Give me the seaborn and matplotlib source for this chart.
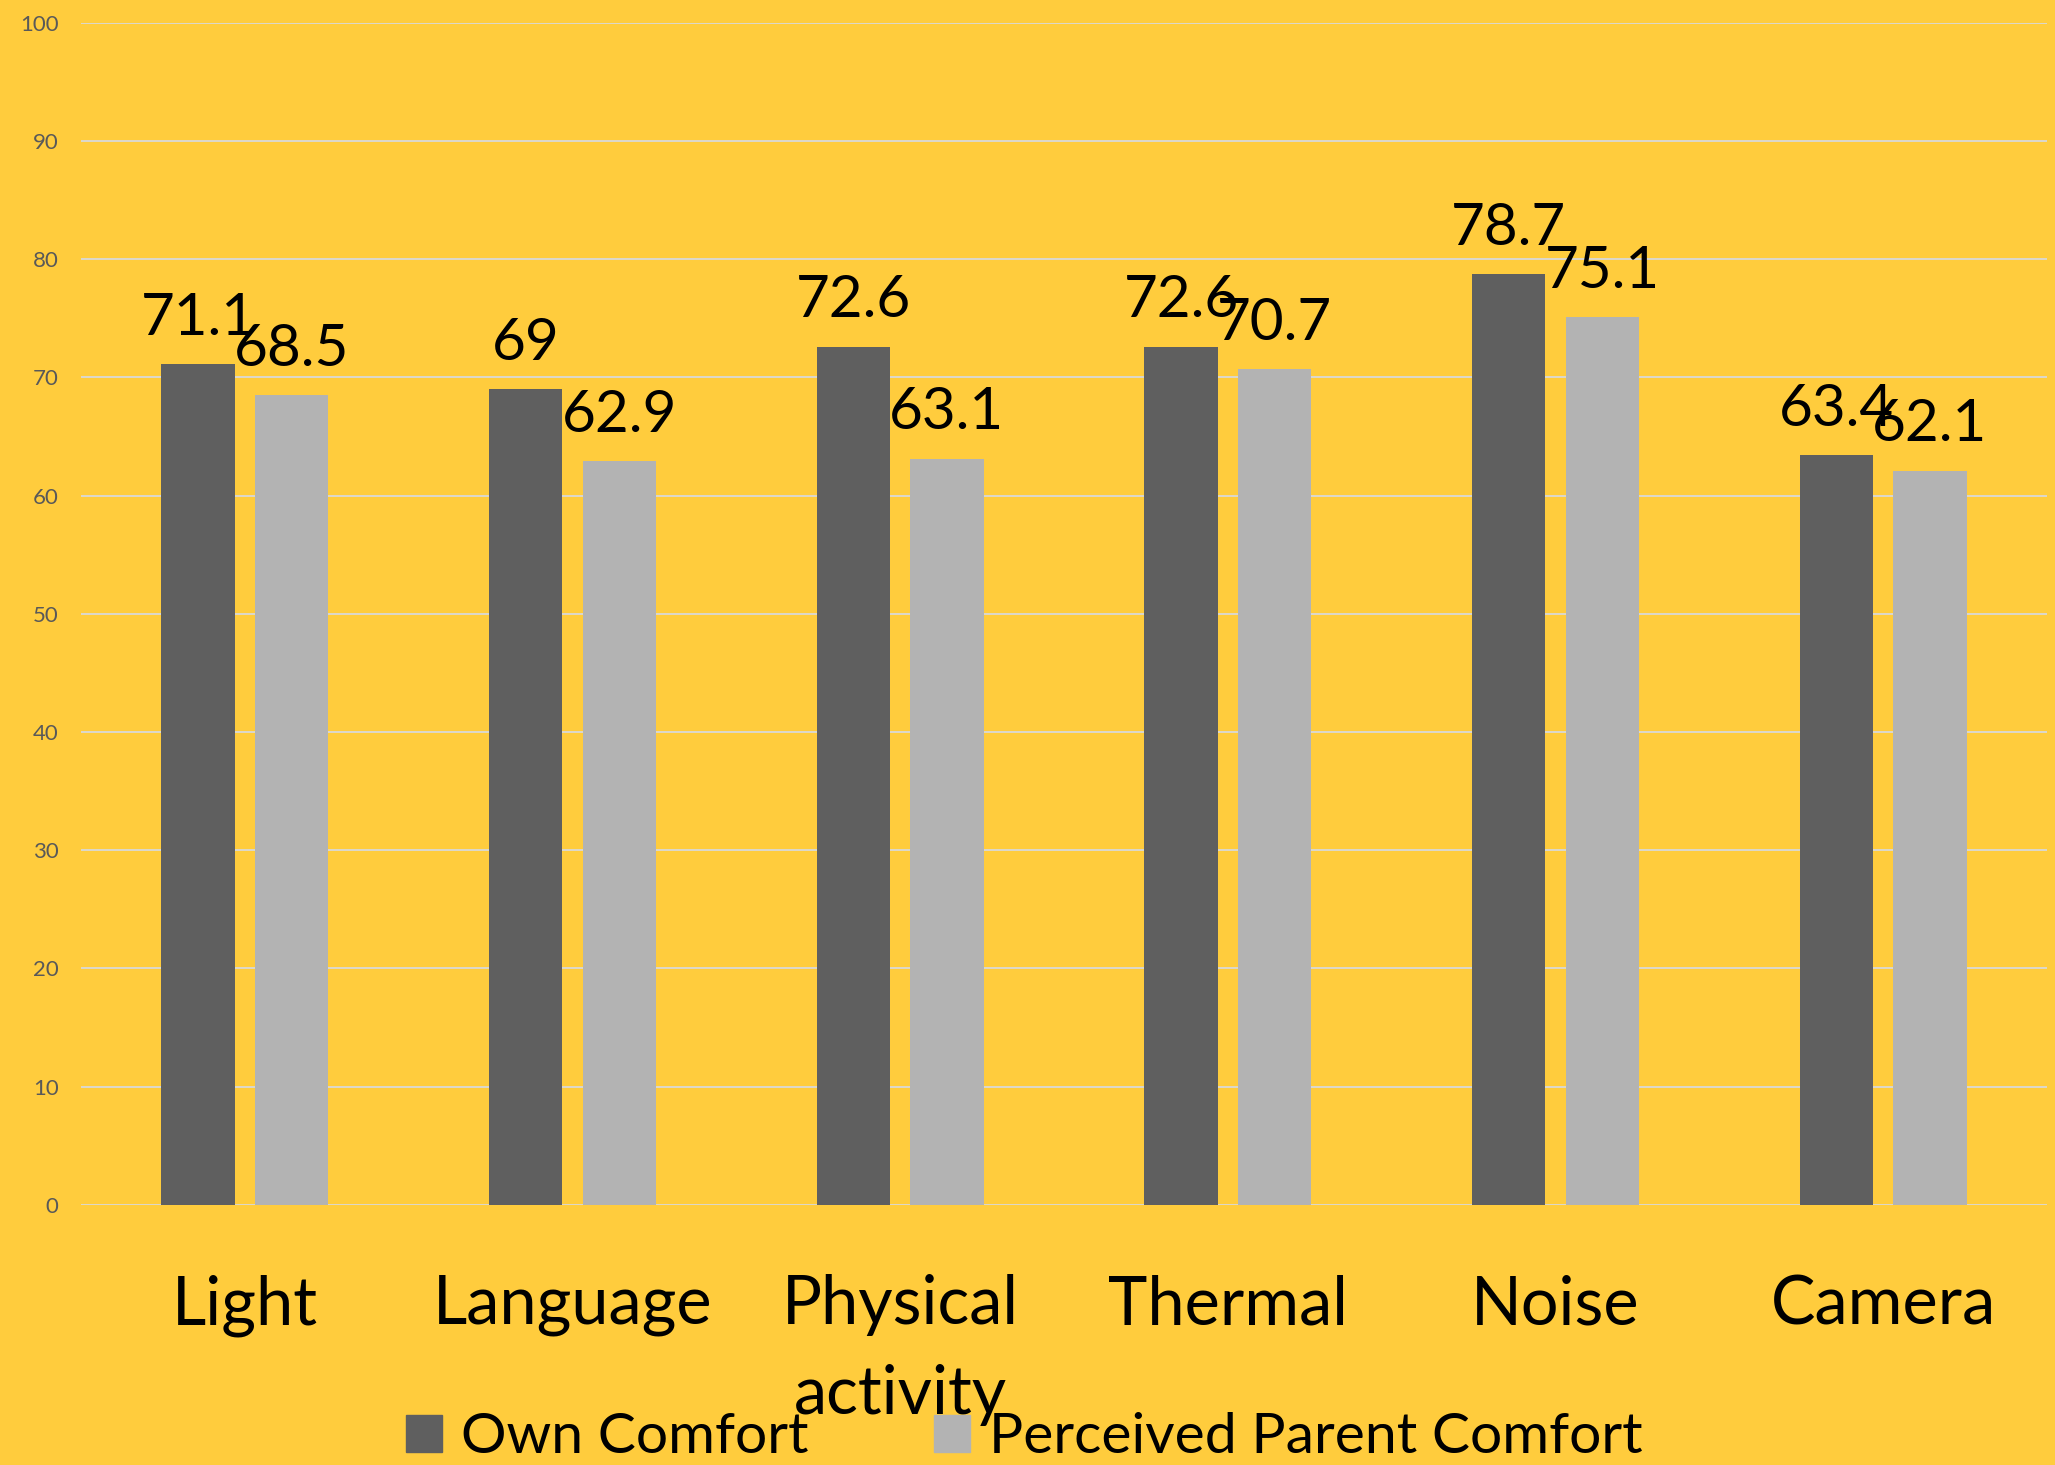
import matplotlib
matplotlib.use("Agg")
import matplotlib.pyplot as plt
import seaborn as sns
import pandas as pd

# Comfort scores per feature
categories = ["Light", "Language", "Physical\nactivity", "Thermal", "Noise", "Camera"]
own_comfort = [71.1, 69, 72.6, 72.6, 78.7, 63.4]
parent_comfort = [68.5, 62.9, 63.1, 70.7, 75.1, 62.1]
series_names = ["Own Comfort", "Perceived Parent Comfort"]
y_ticks = list(range(0, 101, 10))

BG = "#FFCC3D"
COLORS = ["#5F5F5F", "#B3B3B3"]

df = pd.DataFrame({
    "category": categories * 2,
    "score": own_comfort + parent_comfort,
    "series": [series_names[0]] * len(categories) + [series_names[1]] * len(categories),
})

sns.set_theme(style="white")
plt.rcParams["font.family"] = ["Lato", "DejaVu Sans"]

fig = plt.figure(figsize=(20.55, 14.65), dpi=100, facecolor=BG)
ax = fig.add_axes([0.0394, 0.1775, 0.9567, 0.8071])
ax.set_facecolor(BG)

sns.barplot(data=df, x="category", y="score", hue="series", order=categories,
            hue_order=series_names, palette=COLORS, width=0.571, gap=0.216,
            dodge=True, saturation=1, linewidth=0, errorbar=None, ax=ax)

for container, vals in zip(ax.containers, [own_comfort, parent_comfort]):
    ax.bar_label(container, labels=[f"{v:g}" for v in vals], padding=14,
                 fontsize=42, color="black")

ax.set_ylim(0, 100)
ax.set_xlim(-0.5, len(categories) - 0.5)
ax.set_yticks(y_ticks)
ax.yaxis.grid(True, color="#D9D9D9", linewidth=1.3)
ax.set_axisbelow(True)
for s in ax.spines.values():
    s.set_visible(False)

ax.tick_params(axis="y", length=0, pad=16, labelsize=16, labelcolor="#595959")
ax.tick_params(axis="x", length=0, pad=50, labelsize=48, labelcolor="black")
for lab in ax.get_xticklabels():
    lab.set_linespacing(1.55)
ax.set_xlabel("")
ax.set_ylabel("")

ax.get_legend().remove()
handles = [plt.Rectangle((0, 0), 1, 1, color=c) for c in COLORS]
fig.legend(handles, series_names, loc="center", bbox_to_anchor=(0.4985, 0.0185),
           ncol=2, frameon=False, fontsize=41, labelcolor="black",
           handlelength=0.64, handleheight=0.64, handletextpad=0.33,
           columnspacing=2.2, borderaxespad=0, borderpad=0)

fig.savefig("out.png", dpi=100, facecolor=BG)
